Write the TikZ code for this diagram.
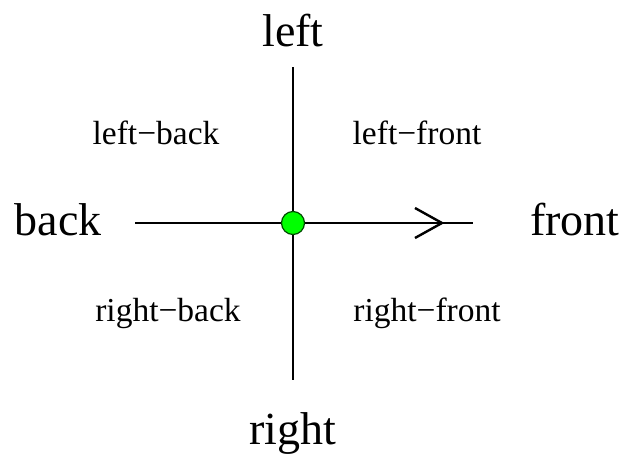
\documentclass[tikz,border=0pt]{standalone}
\usepackage{fontspec}
\setmainfont{Liberation Serif}
\usepackage{xcolor}
\usepackage{tikz}

\begin{document}
\begin{tikzpicture}[x=1pt, y=-1pt,
    axis/.style={line width=2.4pt, black},
    big/.style={font=\fontsize{46}{50}\selectfont},
    small/.style={font=\fontsize{33.5}{36}\selectfont}]
  \useasboundingbox (0,0) rectangle (622,456);
  % axes
  \coordinate (top) at (293,67);
  \coordinate (bottom) at (293,380);
  \coordinate (west) at (135,223);
  \coordinate (east) at (473,223);
  \coordinate (tip) at (442,223);
  \draw[axis] (top) -- (bottom);
  \draw[axis] (west) -- (east);
  \draw[axis, line join=miter] ([shift={(-27,-15)}]tip) -- (tip) -- ([shift={(-27,15)}]tip);
  % origin
  \node[circle, draw=black!70!green, fill=green, line width=1.2pt,
        inner sep=0pt, minimum size=23pt] (origin) at (293,223) {};
  % main directions
  \node[big] (left) at (293,31) {left};
  \node[big] (right) at (293,433) {right};
  \node[big] (back) at (58,220) {back};
  \node[big] (front) at (575,220) {front};
  % quadrants
  \node[small] (lb) at (156,133) {left−back};
  \node[small] (lf) at (417,133) {left−front};
  \node[small] (rb) at (168,313) {right−back};
  \node[small] (rf) at (427,313) {right−front};
\end{tikzpicture}
\end{document}
